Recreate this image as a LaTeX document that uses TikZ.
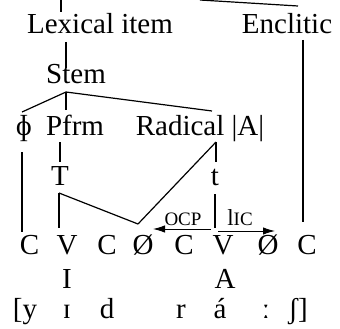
\documentclass[tikz,border=0pt]{standalone}
\usepackage{fontspec}
\setmainfont{Liberation Serif}
\usetikzlibrary{arrows.meta}
\tikzset{
  txt/.style={inner sep=0pt, anchor=base, font=\fontsize{29}{31}\selectfont},
  lbl/.style={inner sep=0pt, anchor=base, font=\fontsize{19}{21}\selectfont},
  ln/.style={line width=1.2pt},
  arr/.style={line width=1pt, -{Latex[length=12pt,width=7.5pt]}},
}
\begin{document}
\begin{tikzpicture}[x=1pt,y=-1pt]
\useasboundingbox (0,0) rectangle (340,329);
% top lines from off-picture parent
\coordinate (tl0) at (61,0);
\coordinate (tl1) at (61,12);
\coordinate (tr0) at (200,0);
\coordinate (tr1) at (298,6);
\draw[ln] (tl0) -- (tl1);
\draw[ln] (tr0) -- (tr1);
% nodes
\node[txt] (lex) at (100,34) {Lexical item};
\node[txt] (enc) at (287,34) {Enclitic};
\node[txt] (stem) at (76,83) {Stem};
\node[txt] (phi) at (24,135) {ɸ};
\node[txt] (pfrm) at (75,135) {Pfrm};
\node[txt] (rad) at (200,135) {Radical |A|};
\node[txt] (T) at (60,185) {T};
\node[txt] (t) at (215,185) {t};
\node[txt] (c1) at (29.5,254) {C};
\node[txt] (v1) at (67,254) {V};
\node[txt] (c2) at (107,254) {C};
\node[txt] (o1) at (143,254) {Ø};
\node[txt] (c3) at (184,254) {C};
\node[txt] (v2) at (223,254) {V};
\node[txt] (o2) at (268,254) {Ø};
\node[txt] (c4) at (307,254) {C};
\node[txt] (I) at (67,288) {I};
\node[txt] (A) at (225,288) {A};
\node[txt] (p1) at (25,318) {[y};
\node[txt] (p2) at (67,318) {ɪ};
\node[txt] (p3) at (107,318) {d};
\node[txt] (p4) at (181,318) {r};
\node[txt] (p5) at (220,318) {á};
\node[txt] (p6) at (266,318) {ː};
\node[txt] (p7) at (298,318) {ʃ]};
\node[lbl] (ocp) at (183,225) {OCP};
\node[lbl] (lic) at (240,225) {{\fontsize{23}{25}\selectfont l}IC};
% connectors
\draw[ln] ([xshift=-34pt,yshift=-8pt]lex.base) -- ([xshift=-10pt,yshift=15pt]stem.base);
\draw[ln] ([xshift=16pt,yshift=-6pt]enc.base) -- ([xshift=-4pt,yshift=32pt]c4.base);
\draw[ln] ([xshift=-10pt,yshift=-9pt]stem.base) coordinate (sb) -- ([xshift=-2pt,yshift=23pt]phi.base);
\draw[ln] (sb) -- ([xshift=-9pt,yshift=25pt]pfrm.base);
\draw[ln] (sb) -- ([xshift=12pt,yshift=24pt]rad.base);
\draw[ln] ([xshift=-2pt,yshift=-17pt]phi.base) -- ([xshift=-7.5pt,yshift=22pt]c1.base);
\draw[ln] ([xshift=-15pt,yshift=-7pt]pfrm.base) -- ([yshift=23pt]T.base);
\draw[ln] ([xshift=16pt,yshift=-7pt]rad.base) coordinate (rb) -- ([xshift=1pt,yshift=23pt]t.base);
\draw[ln] (rb) -- ([xshift=-5pt,yshift=30pt]o1.base) coordinate (ot);
\draw[ln] ([xshift=-1pt,yshift=-8pt]T.base) coordinate (tb) -- ([xshift=-8pt,yshift=26pt]v1.base);
\draw[ln] (tb) -- (ot);
\draw[ln] ([yshift=-9pt]t.base) -- ([xshift=-8pt,yshift=26pt]v2.base);
\draw[arr] ([xshift=-12pt,yshift=25pt]v2.base) -- ([xshift=10pt,yshift=25pt]o1.base);
\draw[arr] ([xshift=-5pt,yshift=23pt]v2.base) -- ([xshift=7pt,yshift=23pt]o2.base);
\end{tikzpicture}
\end{document}
